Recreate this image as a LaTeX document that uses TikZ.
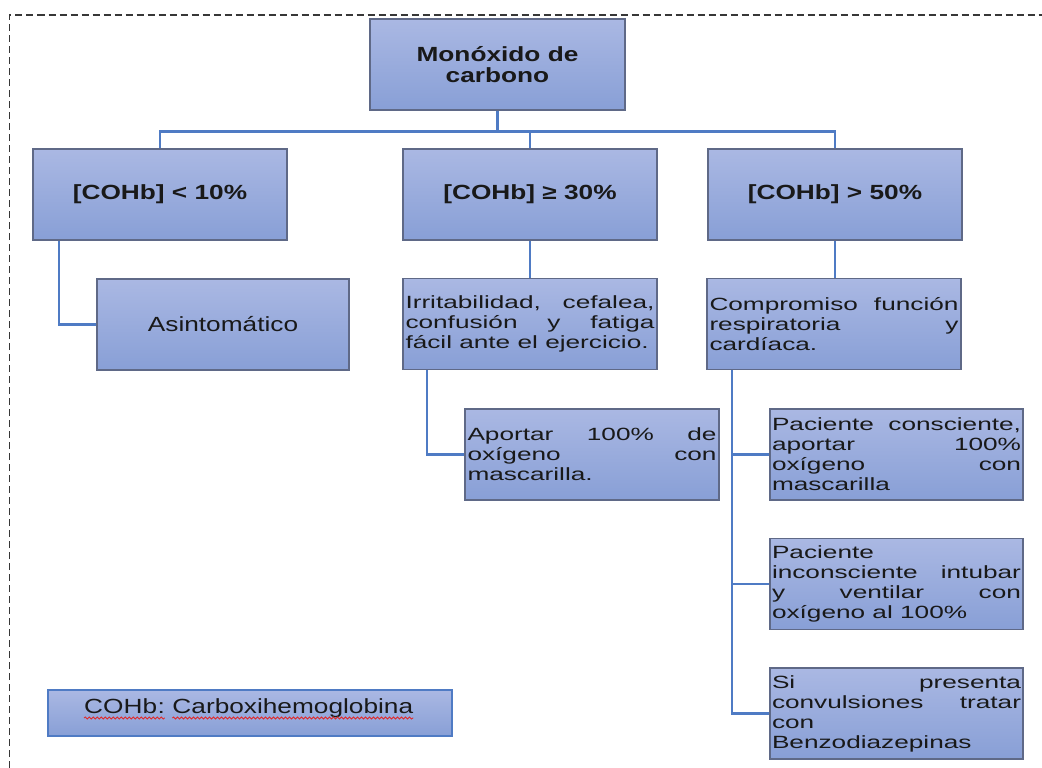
\documentclass[tikz,border=0pt]{standalone}
\usepackage{fontspec}
\setmainfont{Liberation Sans}
\newfontfamily\headfont{Liberation Sans}[FakeStretch=1.28]
\newfontfamily\bodyfont{Liberation Sans}[FakeStretch=1.48]
\usetikzlibrary{decorations.pathmorphing}
\definecolor{boxtop}{RGB}{170,184,227}
\definecolor{boxbot}{RGB}{136,159,214}
\definecolor{boxline}{RGB}{95,105,135}
\definecolor{linkblue}{RGB}{79,123,196}
\definecolor{framegray}{RGB}{55,55,55}
\definecolor{inkgray}{RGB}{25,25,25}
\definecolor{spellred}{RGB}{225,40,40}
\hyphenpenalty=10000
\tolerance=9999
\hbadness=10000

\begin{document}
\begin{tikzpicture}[x=1pt,y=-1pt,
        box/.style={rectangle,draw=boxline,line width=1.6pt,top color=boxtop,bottom color=boxbot,
            minimum width=254pt,minimum height=91pt,inner sep=2pt,text=inkgray},
        head/.style={box,font=\headfont\bfseries\fontsize{20.5}{21}\selectfont,align=center},
        plain/.style={box,font=\headfont\fontsize{20.5}{21}\selectfont},
        note/.style={box,font=\bodyfont\fontsize{17.7}{20}\selectfont,text width=249pt,align=justify},
        word/.style={inner sep=0pt,anchor=base west,text=inkgray,font=\headfont\fontsize{20.5}{21}\selectfont},
        link/.style={draw=linkblue,line width=2.2pt},
        wave/.style={draw=spellred,line width=0.8pt,decorate,decoration={snake,amplitude=1pt,segment length=4pt}},
        frame/.style={draw=framegray,line width=1.6pt,dash pattern=on 7pt off 4pt}]
    \useasboundingbox (0,0) rectangle (1042,768);
    \draw[frame] (9.5,768) -- (9.5,15) -- (1042,15);

    % top and first level
    \node[head,minimum width=255pt] (co) at (497.5,64.5) {Monóxido de\\carbono};
    \node[head] (low) at (160,194.5) {[COHb] < 10\%};
    \node[head] (mid) at (530,194.5) {[COHb] ≥ 30\%};
    \node[head] (high) at (835,194.5) {[COHb] > 50\%};

    % effects
    \node[plain,minimum width=252pt] (asin) at (223,324.5) {Asintomático};
    \node[note] (irr) at (530,324) {Irritabilidad, cefalea,\linebreak confusión y fatiga\linebreak fácil ante el ejercicio.};
    \node[note] (comp) at (834,324) {Compromiso función\linebreak respiratoria y\linebreak cardíaca.};

    % treatment
    \node[note] (apo) at (592,454.5) {Aportar 100\% de\linebreak oxígeno con\linebreak mascarilla.};
    \node[note,minimum width=253pt] (cons) at (896.5,454.5) {Paciente consciente,\linebreak aportar 100\%\linebreak oxígeno con\linebreak mascarilla};
    \node[note,minimum width=253pt] (incons) at (896.5,584) {Paciente\newline inconsciente intubar\linebreak y ventilar con\linebreak oxígeno al 100\%};
    \node[note,minimum width=253pt] (conv) at (896.5,713.5) {Si presenta\linebreak convulsiones tratar\linebreak con\newline Benzodiazepinas};

    % legend
    \node[box,draw=linkblue,minimum width=404pt,minimum height=46pt] (leg) at (250,713) {};
    \node[word] (abbr) at (84,713) {COHb};
    \node[word] (colon) at (abbr.base east) {:};
    \node[word] (full) at ([xshift=7.3pt]colon.base east) {Carboxihemoglobina};
    \draw[wave] ([yshift=-5pt]abbr.base west) -- ([yshift=-5pt]colon.base east);
    \draw[wave] ([yshift=-5pt]full.base west) -- ([yshift=-5pt]full.base east);

    % connectors
    \coordinate (bus) at (497.5,131.5);
    \draw[link] (co.south) -- (bus);
    \draw[link] (low.north) |- (bus) -| (high.north);
    \draw[link] (bus) -| (mid.north);
    \draw[link] ([xshift=27pt]low.south west) |- (asin.west);
    \draw[link] (mid.south) -- (irr.north);
    \draw[link] (high.south) -- (high.south |- comp.north);
    \draw[link] ([xshift=25pt]irr.south west) |- (apo.west);
    \coordinate (trunk) at ([xshift=26pt]comp.south west);
    \draw[link] (trunk) |- (cons.west);
    \draw[link] (trunk) |- (incons.west);
    \draw[link] (trunk) |- (conv.west);
\end{tikzpicture}
\end{document}
